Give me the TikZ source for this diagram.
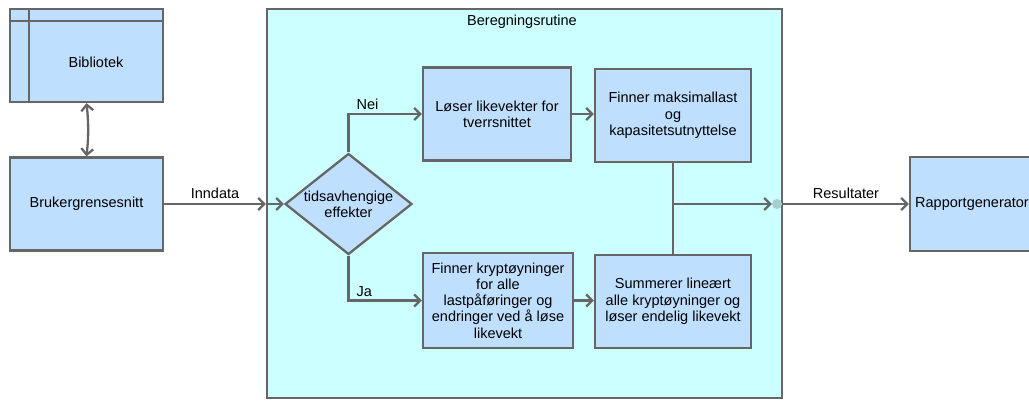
\documentclass[tikz,border=0pt]{standalone}
\usepackage{fontspec}
\setmainfont{Liberation Sans}
\usetikzlibrary{arrows.meta,shapes.geometric,calc}
\definecolor{boxfill}{HTML}{BFDFFF}
\definecolor{contfill}{HTML}{CCFFFF}
\definecolor{edgecol}{HTML}{666666}
\definecolor{dotfill}{HTML}{A6CFCF}
\begin{document}
\begin{tikzpicture}[x=1pt,y=-1pt,
  every node/.style={font=\fontsize{14.5}{16.3}\selectfont, text=black},
  procbox/.style={draw=edgecol, fill=boxfill, line width=2.3pt, align=center, inner sep=2pt},
  conn/.style={draw=edgecol, line width=2.3pt, -{Straight Barb[length=6pt,width=12pt,line width=2.3pt]}},
  plain/.style={draw=edgecol, line width=2.3pt},
  lbl/.style={inner sep=1pt}]
\useasboundingbox (0,0) rectangle (1029,400);
% container
\node[draw=edgecol, fill=contfill, line width=2.3pt, minimum width=515pt, minimum height=389pt, inner sep=0pt] (cont) at (524.5,203.5) {};
\node[lbl] (title) at (522,22) {Beregningsrutine};
% left boxes
\node[procbox, minimum width=153pt, minimum height=93pt] (bib) at (86.5,55.5) {};
\draw[plain] (29,9) -- (29,102) (10,21) -- (163,21);
\node[lbl] (bibtxt) at (96,62) {Bibliotek};
\node[procbox, minimum width=153pt, minimum height=93pt] (bru) at (86.5,204) {Brukergrensesnitt};
% diamond
\node[diamond, draw=edgecol, fill=boxfill, line width=2.3pt, minimum width=127pt, minimum height=101pt, inner sep=0pt] (dia) at (348.5,204) {};
\node[lbl, align=center] (diatxt) at (348.5,204) {tidsavhengige\\effekter};
% process boxes
\node[procbox, minimum width=148pt, minimum height=93pt] (l1) at (497,114) {Løser likevekter for\\tverrsnittet};
\node[procbox, minimum width=156pt, minimum height=93pt] (r1) at (673,115.5) {Finner maksimallast\\og\\kapasitetsutnyttelse};
\node[procbox, minimum width=150pt, minimum height=95pt] (l2) at (498,300.5) {Finner kryptøyninger\\for alle\\lastpåføringer og\\endringer ved å løse\\likevekt};
\node[procbox, minimum width=156pt, minimum height=93pt] (r2) at (673,301.5) {Summerer lineært\\alle kryptøyninger og\\løser endelig likevekt};
\node[procbox, minimum width=124pt, minimum height=94pt] (rap) at (972,204) {Rapportgenerator};
% connectors
\draw[plain, {Straight Barb[length=6pt,width=12pt,line width=2.3pt]}-{Straight Barb[length=6pt,width=12pt,line width=2.3pt]}] (bib.south) to[bend left=6] (bru.north);
\draw[conn] (bru.east) -- node[lbl, above=3pt] (inn) {Inndata} (cont.west |- bru.east);
\draw[conn] (cont.west |- dia.west) -- (dia.west);
\draw[conn] (dia.north) |- node[lbl, pos=0.63, above=2pt] (nei) {Nei} (l1.west);
\draw[conn] (dia.south) |- node[lbl, pos=0.607, above=2pt] (ja) {Ja} (l2.west);
\draw[conn] (l1.east) -- (l1.east -| r1.west);
\draw[conn] (l2.east) -- (l2.east -| r2.west);
\draw[plain] (r1.south) -- (r2.north);
\coordinate (j) at (r1.south |- dia);
\node[circle, fill=dotfill, minimum size=10pt, inner sep=0pt] (dot) at (777,204) {};
\draw[conn] (j) -- (dot.west);
\draw[conn] (cont.east |- dot) -- node[lbl, above=3pt] (res) {Resultater} (rap.west |- dot);
\end{tikzpicture}
\end{document}
